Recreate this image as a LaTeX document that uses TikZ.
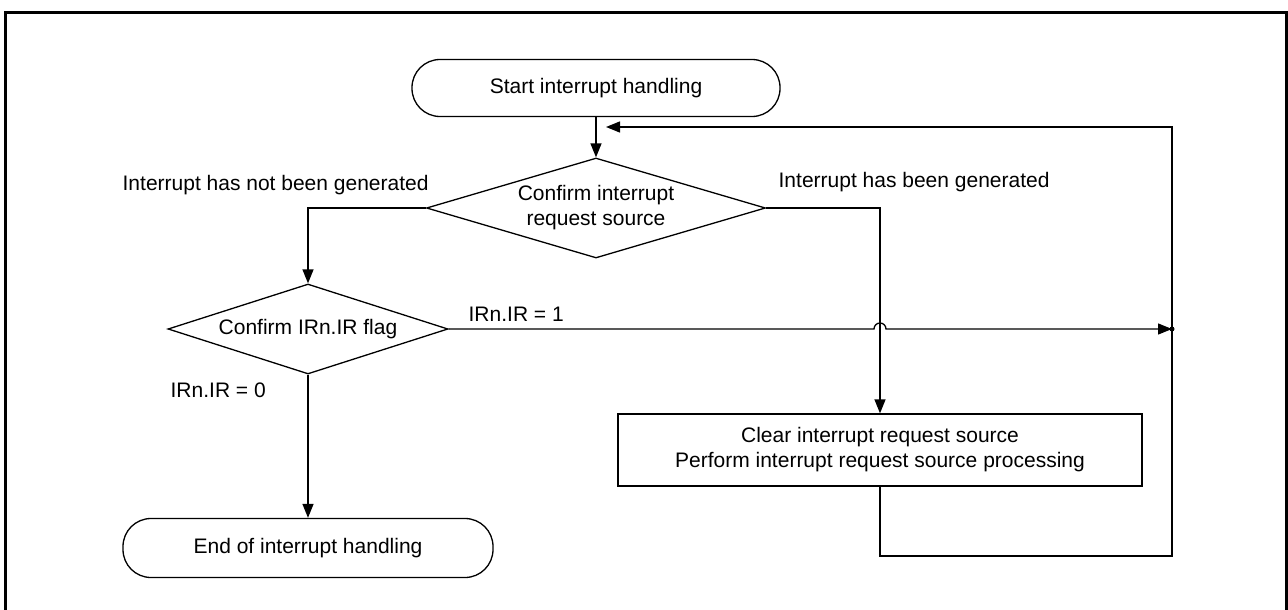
\documentclass[tikz,border=0pt]{standalone}
\usepackage{fontspec}
\setmainfont{Liberation Sans}
\usetikzlibrary{shapes.geometric,arrows.meta}
\begin{document}
\begin{tikzpicture}[x=1pt,y=-1pt,
  font=\fontsize{21}{25}\selectfont, line width=1.3pt,
  term/.style={draw, rectangle, rounded corners=28pt, minimum width=368pt, minimum height=57pt, inner sep=0pt},
  dec/.style={draw, diamond, inner sep=0pt, align=center},
  proc/.style={draw, rectangle, minimum width=524pt, minimum height=72pt, align=center, inner sep=0pt},
  arr/.style={-{Triangle[length=14pt,width=11pt]}},
  lbl/.style={anchor=west, inner sep=0pt}]
\useasboundingbox (0,0) rectangle (1288,610);
\draw[line width=3pt] (5,610) -- (5,13) -- (1286,13) -- (1286,610);

\node[term] (start) at (596,88) {Start interrupt handling};
\node[dec, shape aspect=3.39, minimum width=339pt, minimum height=100pt] (d1) at (596,208) {Confirm interrupt\\request source};
\node[dec, shape aspect=3.11, minimum width=280pt, minimum height=90pt] (d2) at (308,329) {Confirm IRn.IR flag};
\node[proc] (box) at (880,450) {Clear interrupt request source\\Perform interrupt request source processing};
\node[term, minimum width=370pt, minimum height=59pt] (end) at (308,548) {End of interrupt handling};

\node[lbl] (l1) at (122,185) {Interrupt has not been generated};
\node[lbl] (l2) at (778,182) {Interrupt has been generated};
\node[lbl] (l3) at (468,314) {IRn.IR = 1};
\node[lbl] (l4) at (170,390) {IRn.IR = 0};

\coordinate (j) at (1172,329);
\coordinate (loopBR) at (1172,556);
\coordinate (loopTR) at (1172,127);
\coordinate (back) at (606,127);
\coordinate (hopA) at (874,329);

\draw[arr] (start.south) -- (d1.north);
\draw[arr] (d1.west) -| (d2.north);
\draw[arr] (d1.east) -| (box.north);
\draw[arr] (d2.south) -- (end.north);
\draw[arr] (d2.east) -- (hopA) arc[start angle=180, end angle=360, radius=6] -- (j);
\fill (j) circle[radius=2.5pt];
\draw[arr] (box.south) |- (loopBR) -- (loopTR) -- (back);
\end{tikzpicture}
\end{document}
